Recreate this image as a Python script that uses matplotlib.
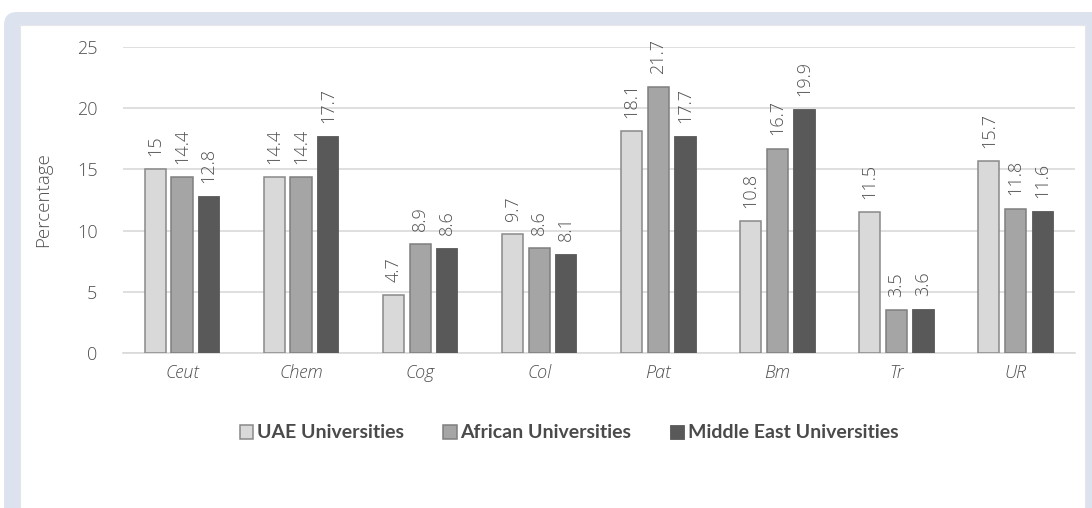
import matplotlib
matplotlib.use("Agg")
import matplotlib.pyplot as plt
import numpy as np
from matplotlib.patches import FancyBboxPatch, Rectangle

categories = ["Ceut", "Chem", "Cog", "Col", "Pat", "Bm", "Tr", "UR"]
uae = [15, 14.4, 4.7, 9.7, 18.1, 10.8, 11.5, 15.7]
african = [14.4, 14.4, 8.9, 8.6, 21.7, 16.7, 3.5, 11.8]
middle_east = [12.8, 17.7, 8.6, 8.1, 17.7, 19.9, 3.6, 11.6]
series_names = ["UAE Universities", "African Universities", "Middle East Universities"]
y_ticks = [0, 5, 10, 15, 20, 25]

W, H = 1092, 508
fig = plt.figure(figsize=(W / 100, H / 100), dpi=100)
fig.patch.set_facecolor("white")

# framed panel behind the chart
frame_col = "#dde2ef"
outer = FancyBboxPatch((4 / W, -0.1), (W + 20) / W, (H - 12) / H + 0.1,
                       boxstyle="round,pad=0,rounding_size=0.012",
                       transform=fig.transFigure, facecolor=frame_col,
                       edgecolor="none", zorder=0, mutation_aspect=W / H)
fig.patches.append(outer)
inner = Rectangle((20 / W, -0.1), (1085 - 20) / W, (H - 25) / H + 0.1,
                  transform=fig.transFigure, facecolor="white",
                  edgecolor="#e4e6ea", linewidth=0.8, zorder=0.5)
fig.patches.append(inner)

ax = fig.add_axes([122.5 / W, (H - 353) / H, (1075 - 122.5) / W, (353 - 47) / H])
ax.set_zorder(2)
ax.patch.set_alpha(0)

x = np.arange(len(categories))
bw = 0.178
off = 0.224
styles = [
    dict(color="#d9d9d9", edgecolor="#898989", linewidth=1.1),
    dict(color="#a5a5a5", edgecolor="#7f7f7f", linewidth=1.1),
    dict(color="#595959", edgecolor="#595959", linewidth=0.6),
]
data = [uae, african, middle_east]
txt_col = "#505050"
font = "Open Sans"
wt = "light"
for i, (vals, st) in enumerate(zip(data, styles)):
    xs = x + (i - 1) * off
    ax.bar(xs, vals, width=bw, label=series_names[i], zorder=3, **st)
    for xi, v in zip(xs, vals):
        ax.annotate(f"{v:g}", (xi, v), xytext=(0, 9.5), textcoords="offset points",
                    rotation=90, ha="center", va="bottom", fontsize=13,
                    color=txt_col, family=font, fontweight=wt)

ax.set_xlim(-0.5, len(categories) - 0.5)
ax.set_ylim(0, 25)
ax.set_yticks(y_ticks)
ax.set_yticklabels([str(t) for t in y_ticks], fontsize=13, color=txt_col,
                   family=font, fontweight=wt)
ax.set_xticks(x)
ax.set_xticklabels(categories, fontsize=13, color=txt_col, style="italic",
                   family=font, fontweight=wt)
ax.tick_params(axis="y", length=0, pad=18)
ax.tick_params(axis="x", length=0, pad=8)
ax.grid(axis="y", color="#d9d9d9", linewidth=1.2, zorder=0)
ax.set_axisbelow(True)
for s in ["top", "right", "left"]:
    ax.spines[s].set_visible(False)
ax.spines["bottom"].set_color("#d9d9d9")
ax.spines["bottom"].set_linewidth(1.2)

ax.set_ylabel("Percentage", fontsize=13.5, color=txt_col, family=font,
              fontweight=wt, labelpad=18)

leg = fig.legend(loc="center", bbox_to_anchor=(569 / W, 1 - 433 / H), ncol=3,
                 frameon=False, handlelength=0.7, handleheight=0.7,
                 handletextpad=0.2, columnspacing=2.0,
                 prop={"family": "Lato", "size": 14, "weight": "bold"})
for t in leg.get_texts():
    t.set_color("#4a4a4a")

fig.savefig("out.png", dpi=100, facecolor="white")
